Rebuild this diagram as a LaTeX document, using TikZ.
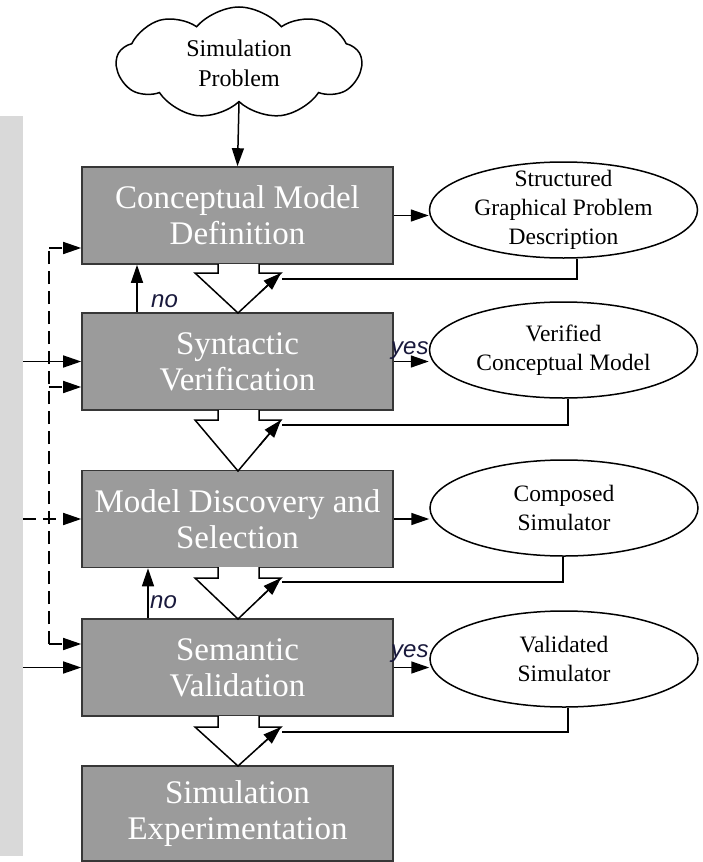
\documentclass[tikz,border=0pt]{standalone}
\usepackage{fontspec}
\setmainfont{Liberation Serif}
\newfontfamily\tagfont{Liberation Sans}
\usetikzlibrary{arrows.meta,shapes.geometric,shapes.symbols}
\definecolor{stepgray}{RGB}{155,155,155}
\definecolor{stripgray}{RGB}{217,217,217}
\definecolor{edgegray}{RGB}{55,55,55}
\definecolor{tagink}{RGB}{25,25,60}

\begin{document}
\begin{tikzpicture}[x=1pt,y=-1pt,
  stage/.style={rectangle, draw=edgegray, line width=1.6pt, fill=stepgray,
    minimum width=311pt, minimum height=97pt, inner sep=0pt,
    text=white, align=center, font=\fontsize{33}{36}\selectfont},
  product/.style={ellipse, draw, line width=1.5pt, fill=white,
    minimum width=268pt, minimum height=96pt, inner sep=0pt},
  prodtext/.style={align=center, inner sep=0pt, font=\fontsize{23.5}{29}\selectfont},
  tip/.style={-{Triangle[length=18pt,width=12pt]}},
  link/.style={line width=1.5pt, tip},
  wire/.style={line width=1.5pt},
  dline/.style={line width=1.5pt, dash pattern=on 13pt off 7pt},
  hollow/.style={draw, line width=1.5pt, fill=white, line join=miter},
  tag/.style={font=\tagfont\itshape\fontsize{24}{26}\selectfont, text=tagink,
    anchor=base west, inner sep=0pt},
  stripbox/.style={rectangle, fill=stripgray, minimum width=23pt, minimum height=740pt, inner sep=0pt}
]
\useasboundingbox (0,0) rectangle (702,862);

% grey side panel
\node[stripbox] (strip) at (11.5,486) {};

% problem statement cloud
\node[cloud, draw, line width=1.5pt, cloud puffs=9, cloud puff arc=100,
      cloud ignores aspect, minimum width=245pt, minimum height=112pt, inner sep=0pt,
      label={[prodtext, font=\fontsize{24}{30}\selectfont]center:Simulation\\Problem}]
      (cloud) at (239,63) {};

% process stages
\node[stage] (b1) at (237.5,215.5) {Conceptual Model\\Definition};
\node[stage] (b2) at (237.5,361.5) {Syntactic\\Verification};
\node[stage] (b3) at (237.5,519)   {Model Discovery and\\Selection};
\node[stage] (b4) at (237.5,667.5) {Semantic\\Validation};
\node[stage, minimum height=95pt] (b5) at (237.5,813.5) {Simulation\\Experimentation};

% stage products
\node[product, label={[prodtext]center:Structured\\Graphical Problem\\Description}] (e1) at (563.5,210) {};
\node[product, label={[prodtext]center:Verified\\Conceptual Model}] (e2) at (563.5,350) {};
\node[product, label={[prodtext]center:Composed\\Simulator}] (e3) at (564,508) {};
\node[product, label={[prodtext]center:Validated\\Simulator}] (e4) at (564,659) {};

% hollow flow arrows between stages (stem top / head base / tip)
\foreach \t/\m/\b in {264/273/313, 410/420/471, 567/578/619, 716/727/766} {
  \draw[hollow] (218,\t) -- (218,\m) -- (195,\m) -- (238,\b) -- (281,\m) -- (259,\m) -- (259,\t);
  \draw[wire, tip] (259.5,{(\b+\m)/2}) -- (281,\m);
}

% feedback from products into the flow arrows
\coordinate (f1) at (282,279);
\coordinate (f2) at (282,425);
\coordinate (f3) at (282,582);
\coordinate (f4) at (282,732);
\draw[wire] ([xshift=13.5pt]e1.south) |- (f1);
\draw[wire] ([xshift=4.5pt]e2.south) |- (f2);
\draw[wire] ([xshift=-1pt]e3.south) |- (f3);
\draw[wire] ([xshift=4pt]e4.south) |- (f4);

% main connectors
\draw[link] (cloud.south) -- (b1.north);
\draw[link] (b1.east) -- (e1.west |- b1.east);
\draw[link] (b2.east) -- (e2.west |- b2.east);
\draw[link] (b3.east) -- (e3.west |- b3.east);
\draw[link] (b4.east) -- (e4.west |- b4.east);

% "no" loops back to the previous stage
\coordinate (n1) at (137,0);
\coordinate (n2) at (148,0);
\draw[link] (b2.north -| n1) -- (b1.south -| n1);
\draw[link] (b4.north -| n2) -- (b3.south -| n2);
\node[tag] (no1) at (151,307) {no};
\node[tag] (no2) at (150,608) {no};
\node[tag] (yes1) at (391,354) {yes};
\node[tag] (yes2) at (391,657) {yes};

% inputs from the side panel
\draw[link] (strip.east |- b2.west) -- (b2.west);
\draw[link] (strip.east |- b4.west) -- (b4.west);
\draw[dline, tip] (strip.east |- b3.west) -- (b3.west);

% dashed bus feeding several stages
\coordinate (bt) at (49,248);
\coordinate (bm) at (49,387);
\coordinate (bb) at (49,644);
\draw[dline] (bb) -- (bt);
\draw[dline, tip] (bt) -- (b1.west |- bt);
\draw[dline, tip] (bm) -- (b2.west |- bm);
\draw[dline, tip] (bb) -- (b4.west |- bb);
\end{tikzpicture}
\end{document}
